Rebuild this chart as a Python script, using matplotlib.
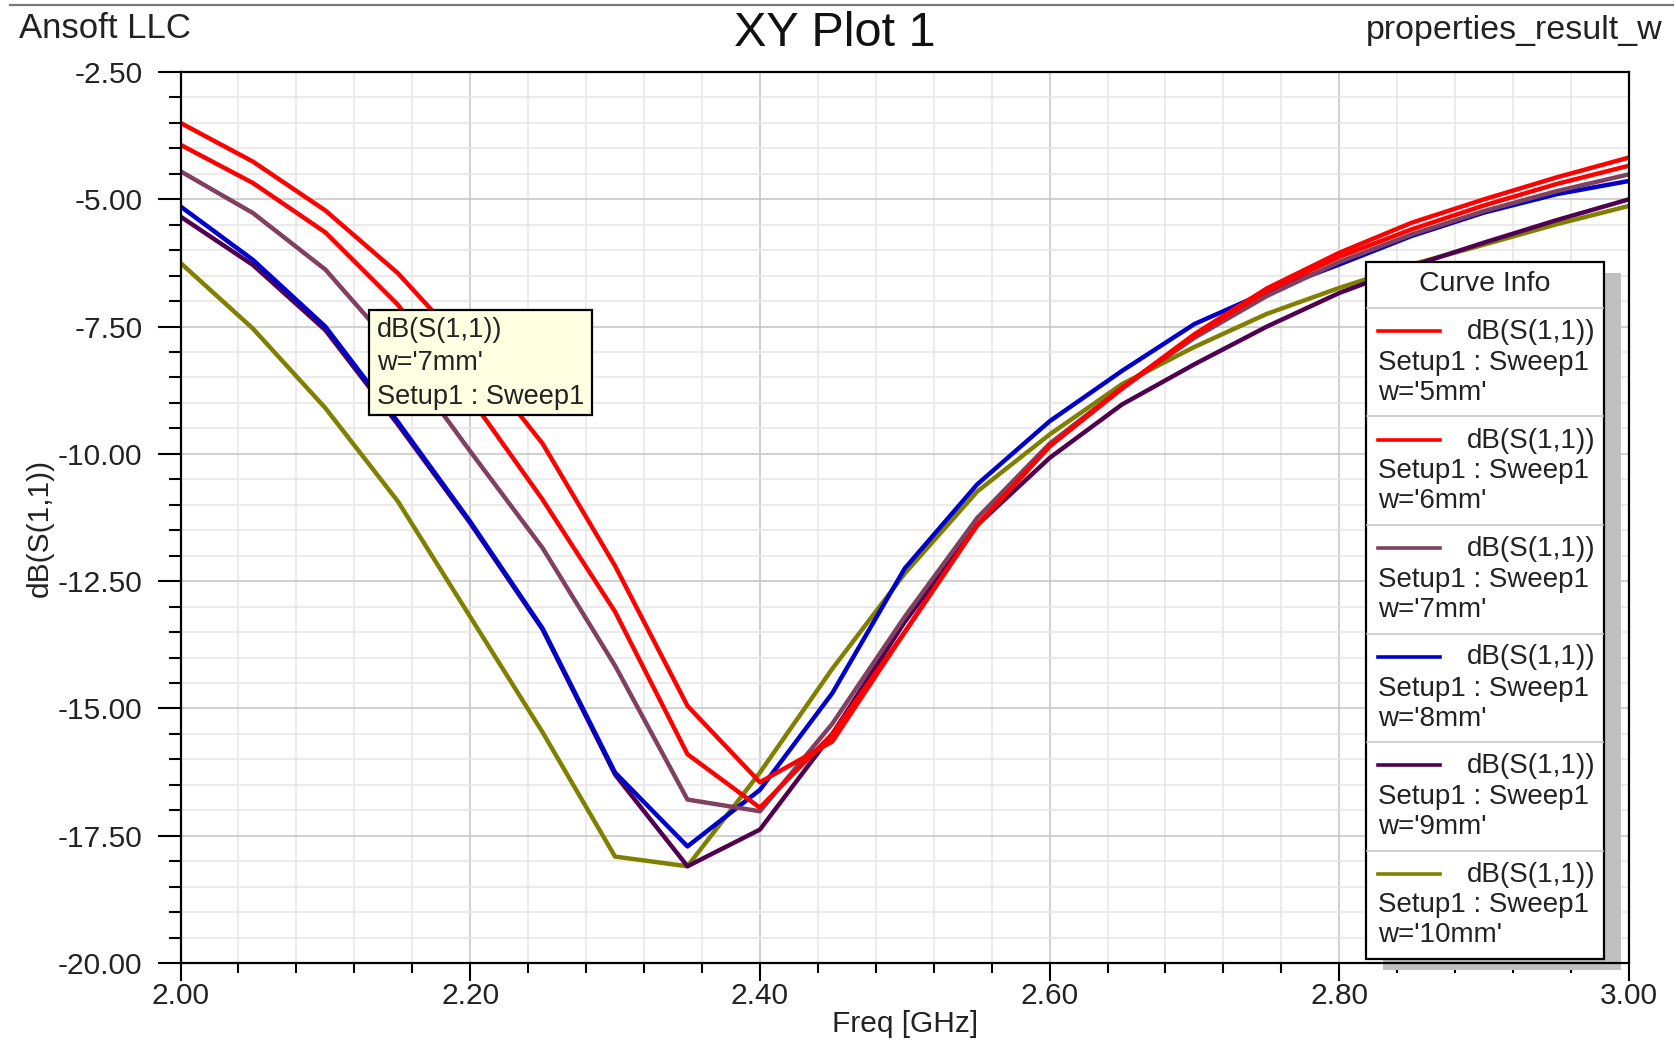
import matplotlib
matplotlib.use("Agg")
import matplotlib.pyplot as plt
from matplotlib.patches import Rectangle
from matplotlib.lines import Line2D
from matplotlib.ticker import MultipleLocator, FormatStrFormatter

plt.rcParams['font.family'] = ['Liberation Sans', 'DejaVu Sans']

# S11 sweep over patch width w
freq = [2.00, 2.05, 2.10, 2.15, 2.20, 2.25, 2.30, 2.35, 2.40, 2.45, 2.50,
        2.55, 2.60, 2.65, 2.70, 2.75, 2.80, 2.85, 2.90, 2.95, 3.00]
s11_w5 = [-3.50, -4.26, -5.22, -6.45, -8.00, -9.80, -12.20, -14.95, -16.45, -15.65, -13.50,
          -11.40, -9.85, -8.70, -7.65, -6.75, -6.05, -5.46, -5.00, -4.57, -4.18]
s11_w6 = [-3.93, -4.68, -5.65, -7.07, -8.90, -10.90, -13.10, -15.90, -16.95, -15.50, -13.50,
          -11.40, -9.85, -8.72, -7.68, -6.80, -6.13, -5.59, -5.12, -4.70, -4.34]
s11_w7 = [-4.45, -5.27, -6.38, -8.00, -9.95, -11.85, -14.16, -16.79, -17.02, -15.30, -13.20,
          -11.26, -9.80, -8.70, -7.72, -6.90, -6.23, -5.69, -5.23, -4.84, -4.51]
s11_w8 = [-5.14, -6.19, -7.50, -9.37, -11.33, -13.43, -16.26, -17.71, -16.60, -14.70, -12.25,
          -10.60, -9.36, -8.37, -7.45, -6.82, -6.28, -5.72, -5.26, -4.90, -4.64]
s11_w9 = [-5.34, -6.29, -7.57, -9.42, -11.36, -13.45, -16.30, -18.10, -17.38, -15.50, -13.30,
          -11.40, -10.08, -9.03, -8.24, -7.50, -6.84, -6.31, -5.85, -5.41, -5.00]
s11_w10 = [-6.25, -7.54, -9.10, -10.93, -13.20, -15.47, -17.91, -18.10, -16.26, -14.22, -12.35,
           -10.74, -9.62, -8.63, -7.90, -7.25, -6.74, -6.28, -5.89, -5.49, -5.13]

widths = ["5mm", "6mm", "7mm", "8mm", "9mm", "10mm"]
curves = [s11_w5, s11_w6, s11_w7, s11_w8, s11_w9, s11_w10]
colors = ["#FF0000", "#FF0000", "#804060", "#0000CC", "#500050", "#808000"]

W, H = 1676, 1042


def fx(px):
    return px / W


def fy(py):
    return 1 - py / H


fig = plt.figure(figsize=(W / 100, H / 100), dpi=100)
ax = fig.add_axes([fx(180.5), fy(963), 1448.5 / W, 891 / H])

# last series drawn first so 5mm ends on top
for i in reversed(range(len(curves))):
    ax.plot(freq, curves[i], color=colors[i], lw=3.2, zorder=2)

ax.set_xlim(2.0, 3.0)
ax.set_ylim(-20.0, -2.5)
ax.xaxis.set_major_locator(MultipleLocator(0.2))
ax.xaxis.set_minor_locator(MultipleLocator(0.04))
ax.yaxis.set_major_locator(MultipleLocator(2.5))
ax.yaxis.set_minor_locator(MultipleLocator(0.5))
ax.xaxis.set_major_formatter(FormatStrFormatter('%.2f'))
ax.yaxis.set_major_formatter(FormatStrFormatter('%.2f'))
ax.set_axisbelow(True)
ax.grid(which='major', color='#C4C4C4', lw=1.1)
ax.grid(which='minor', color='#E6E6E6', lw=1.1)
ax.tick_params(which='both', direction='out', width=1.5, color='black',
               labelsize=21.5, labelcolor='#222222')
ax.tick_params(axis='y', which='major', length=16.5, pad=11)
ax.tick_params(axis='y', which='minor', length=8.5)
ax.tick_params(axis='x', which='major', length=13, pad=1)
ax.tick_params(axis='x', which='minor', length=7)
for s in ax.spines.values():
    s.set_linewidth(1.6)

ax.set_xlabel('Freq [GHz]', fontsize=21.5, color='#222222')
ax.xaxis.label.set_va('center')
ax.xaxis.set_label_coords(0.5, -0.0685)
ax.set_ylabel('dB(S(1,1))', fontsize=21.5, color='#222222')
ax.yaxis.label.set_va('center')
ax.yaxis.set_label_coords(-0.097, 0.488)

# header
fig.add_artist(Line2D([fx(10), fx(1673)], [fy(5), fy(5)], color='#7A7A7A', lw=1.6))
fig.text(0.498, fy(33), 'XY Plot 1', fontsize=35, ha='center', va='center', color='#111111')
fig.text(fx(19), fy(29), 'Ansoft LLC', fontsize=25, ha='left', va='center', color='#222222')
fig.text(fx(1662), fy(30), 'properties_result_w', fontsize=24.5, ha='right', va='center',
         color='#222222')


def fig_rect(l, t, r, b, **kw):
    return Rectangle((fx(l), fy(b)), (r - l) / W, (b - t) / H,
                     transform=fig.transFigure, clip_on=False, **kw)


# marker tooltip
ax.add_patch(fig_rect(369, 310, 592, 415, facecolor='#FFFFE1', edgecolor='black', lw=1.6, zorder=5))
for yc, txt in zip([330, 363, 397], ["dB(S(1,1))", "w='7mm'", "Setup1 : Sweep1"]):
    ax.text(fx(377), fy(yc), txt, transform=fig.transFigure, fontsize=19.5,
            ha='left', va='center', color='#222222', zorder=6)

# Curve Info box
box_l, box_t, box_r, box_b = 1366, 262, 1604, 959
ax.add_patch(fig_rect(box_l + 17, box_t + 11, box_r + 17, box_b + 11,
                      facecolor='#C0C0C0', edgecolor='none', zorder=1))
ax.add_patch(fig_rect(box_l, box_t, box_r, box_b, facecolor='white', edgecolor='black',
                      lw=1.6, zorder=5))
ax.text(fx((box_l + box_r) / 2), fy(284), 'Curve Info', transform=fig.transFigure,
        fontsize=20.5, ha='center', va='center', color='#222222', zorder=6)
row_h = 108.5
for i, (w, c) in enumerate(zip(widths, colors)):
    top = 308 + row_h * i
    ax.add_line(Line2D([fx(box_l + 1), fx(box_r - 1)], [fy(top), fy(top)],
                       transform=fig.transFigure, color='#C8C8C8', lw=1.2,
                       clip_on=False, zorder=6))
    ax.add_line(Line2D([fx(1378), fx(1440)], [fy(top + 23)] * 2, transform=fig.transFigure,
                       color=c, lw=2.6, clip_on=False, zorder=6))
    ax.text(fx(1595), fy(top + 24), 'dB(S(1,1))', transform=fig.transFigure, fontsize=20,
            ha='right', va='center', color='#222222', zorder=6)
    ax.text(fx(1378), fy(top + 55), 'Setup1 : Sweep1', transform=fig.transFigure, fontsize=20,
            ha='left', va='center', color='#222222', zorder=6)
    ax.text(fx(1378), fy(top + 85), "w='%s'" % w, transform=fig.transFigure, fontsize=20,
            ha='left', va='center', color='#222222', zorder=6)

fig.savefig('out.png', dpi=100)
